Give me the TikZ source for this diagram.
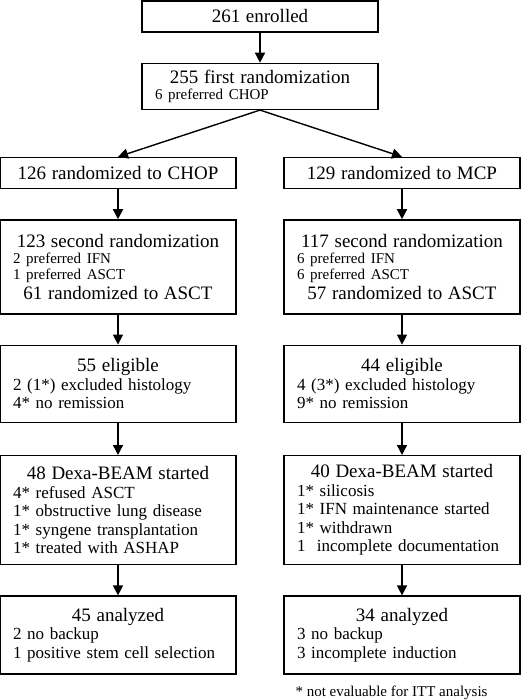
\documentclass[tikz,border=0pt]{standalone}
\usepackage{fontspec}
\setmainfont{Liberation Serif}
\usetikzlibrary{arrows.meta,positioning}

\newcommand{\bigtxt}{\fontsize{19}{20}\selectfont}
\newcommand{\midtxt}{\fontsize{17}{18.5}\selectfont}
\newcommand{\smalltxt}{\fontsize{15}{16}\selectfont}
\newcommand{\boxhead}[1]{{\centering\bigtxt #1\par}}

\begin{document}
\begin{tikzpicture}[x=1pt, y=1pt]
  \tikzstyle{block} = [rectangle, draw=black, line width=1.4pt, minimum width=236pt,
                      text width=210pt, inner xsep=13pt, align=left, font=\midtxt]
  \tikzstyle{arrow} = [-{Triangle[length=10pt,width=10pt]}, line width=1.4pt]
  \useasboundingbox (0,0) rectangle (520,-700);
  % common trunk
  \node[block, minimum height=31pt] (enrol) at (260,-16.5) {\boxhead{261 enrolled}};
  \node[block, minimum height=46pt, below=30pt of enrol] (rand1)
    {\boxhead{255 first randomization}{\smalltxt 6 preferred CHOP\par}};
  % CHOP arm
  \node[block, minimum height=31pt] (chop) at (118,-173) {\boxhead{126 randomized to CHOP}};
  \node[block, minimum height=94pt, below=30pt of chop] (chopsec)
    {\boxhead{123 second randomization}{\smalltxt 2 preferred IFN\\1 preferred ASCT\par}\boxhead{61 randomized to ASCT}};
  \node[block, minimum height=77pt, below=30pt of chopsec] (chopelig)
    {\boxhead{55 eligible}2 (1*) excluded histology\\4* no remission};
  \node[block, minimum height=109pt, below=32pt of chopelig] (chopdexa)
    {\boxhead{48 Dexa-BEAM started}4* refused ASCT\\1* obstructive lung disease\\1* syngene transplantation\\1* treated with ASHAP};
  \node[block, minimum height=78pt, below=30pt of chopdexa] (chopres)
    {\boxhead{45 analyzed}2 no backup\\1 positive stem cell selection};
  % MCP arm
  \node[block, minimum height=31pt] (mcp) at (402,-173) {\boxhead{129 randomized to MCP}};
  \node[block, minimum height=94pt, below=30pt of mcp] (mcpsec)
    {\boxhead{117 second randomization}{\smalltxt 6 preferred IFN\\6 preferred ASCT\par}\boxhead{57 randomized to ASCT}};
  \node[block, minimum height=77pt, below=30pt of mcpsec] (mcpelig)
    {\boxhead{44 eligible}4 (3*) excluded histology\\9* no remission};
  \node[block, minimum height=109pt, below=32pt of mcpelig] (mcpdexa)
    {\boxhead{40 Dexa-BEAM started}1* silicosis\\1* IFN maintenance started\\1* withdrawn\\1\ \ incomplete documentation};
  \node[block, minimum height=78pt, below=30pt of mcpdexa] (mcpres)
    {\boxhead{34 analyzed}3 no backup\\3 incomplete induction};
  \node[font=\smalltxt, inner sep=0pt, anchor=north west] (note) at ([xshift=12pt,yshift=-11pt]mcpres.south west)
    {* not evaluable for ITT analysis};
  % connectors
  \draw[arrow] (enrol) -- (rand1);
  \draw[arrow] (rand1.south) -- (chop.north);
  \draw[arrow] (rand1.south) -- (mcp.north);
  \draw[arrow] (chop) -- (chopsec);
  \draw[arrow] (chopsec) -- (chopelig);
  \draw[arrow] (chopelig) -- (chopdexa);
  \draw[arrow] (chopdexa) -- (chopres);
  \draw[arrow] (mcp) -- (mcpsec);
  \draw[arrow] (mcpsec) -- (mcpelig);
  \draw[arrow] (mcpelig) -- (mcpdexa);
  \draw[arrow] (mcpdexa) -- (mcpres);
\end{tikzpicture}
\end{document}
